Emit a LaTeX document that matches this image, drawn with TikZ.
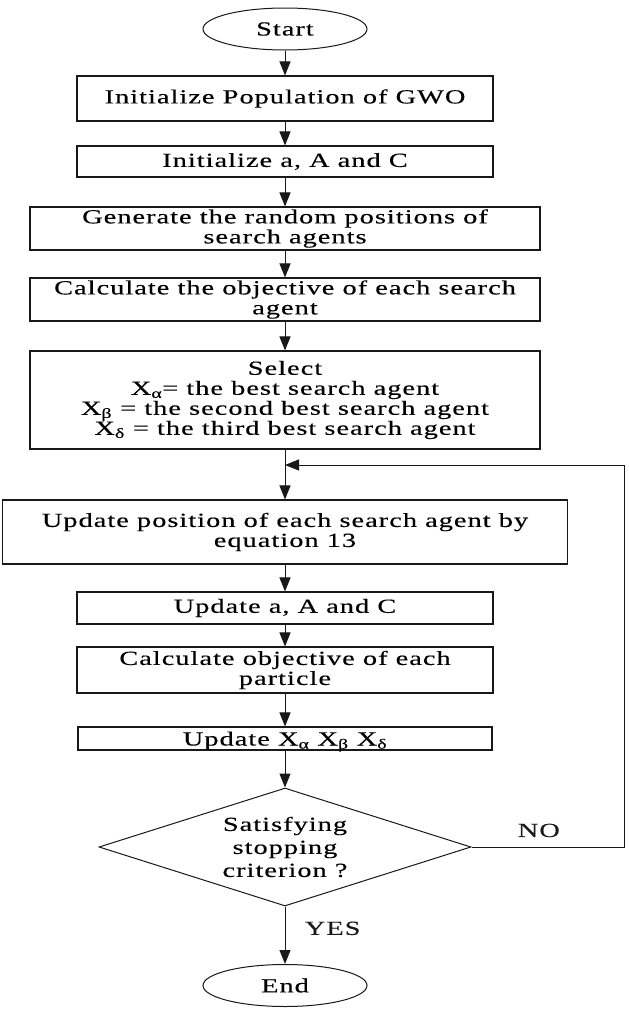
\documentclass[tikz,border=0pt]{standalone}
\usepackage{fontspec}
\setmainfont{Liberation Serif}[FakeStretch=1.42, LetterSpace=5, FakeBold=0.25]
\usepackage{tikz}
\usetikzlibrary{shapes.geometric, arrows.meta, positioning, calc}
\definecolor{mydark}{RGB}{25,25,25}
\tikzset{
  block/.style={rectangle, draw=mydark, fill=white, align=center,
    inner sep=0pt, line width=1.1pt, font=\fontsize{20}{20}\selectfont},
  terminal/.style={ellipse, draw=mydark, fill=white, inner sep=0pt,
    minimum width=164pt, minimum height=42pt, line width=1pt,
    font=\fontsize{20}{20}\selectfont},
  decision/.style={diamond, draw=mydark, fill=white, align=center, inner sep=0pt,
    shape aspect=3.15, minimum width=372pt, minimum height=118pt, line width=1pt,
    font=\fontsize{20}{23}\selectfont},
  arrow/.style={-{Triangle[length=14pt, width=11pt]}, line width=1pt, color=mydark},
  line/.style={draw, line width=1pt, color=mydark}
}
\begin{document}
\begin{tikzpicture}[x=1pt, y=-1pt]
  \useasboundingbox (0,0) rectangle (629,1015);

  % Start and initialisation
  \node[terminal] (start) at (285,29) {Start};
  \node[block, minimum width=416pt, minimum height=45pt] (initpop) at (285,98.5) {Initialize Population of GWO};
  \node[block, minimum width=416pt, minimum height=31pt] (initabc) at (285,161.5) {Initialize a, A and C};
  \node[block, minimum width=510pt, minimum height=43pt] (genpos) at (285,228.5) {Generate the random positions of\\search agents};
  \node[block, minimum width=510pt, minimum height=43pt] (calcobj) at (285,299.5) {Calculate the objective of each search\\agent};
  \node[block, minimum width=510pt, minimum height=98pt] (select) at (285,400) {Select\\
    X\textsubscript{α}= the best search agent\\
    X\textsubscript{β} = the second best search agent\\
    X\textsubscript{δ} = the third best search agent};

  % Main loop
  \node[block, minimum width=565pt, minimum height=64pt] (updpos) at (285,532) {Update position of each search agent by\\equation 13};
  \node[block, minimum width=416pt, minimum height=32pt] (updabc) at (285,608) {Update a, A and C};
  \node[block, minimum width=416pt, minimum height=46pt] (calcpart) at (285,670) {Calculate objective of each\\particle};
  \node[block, minimum width=414pt, minimum height=23pt, text height=16pt, text depth=2pt] (updx) at (285,738.5) {Update X\textsubscript{α} X\textsubscript{β} X\textsubscript{δ}};
  \node[decision] (stop) at (285,847) {Satisfying\\stopping\\criterion ?};
  \node[terminal] (end) at (285,985.5) {End};

  \coordinate (join) at (285,465);

  % Connections
  \draw[arrow] (start) -- (initpop);
  \draw[arrow] (initpop) -- (initabc);
  \draw[arrow] (initabc) -- (genpos);
  \draw[arrow] (genpos) -- (calcobj);
  \draw[arrow] (calcobj) -- (select);
  \draw[arrow] (select) -- (updpos);
  \draw[arrow] (updpos) -- (updabc);
  \draw[arrow] (updabc) -- (calcpart);
  \draw[arrow] (calcpart) -- (updx);
  \draw[arrow] (updx) -- (stop);
  \draw[arrow] (stop) -- node[right=16pt, pos=0.38, font=\fontsize{20}{20}\selectfont] {YES} (end);
  \draw[arrow] (stop.east) -- node[above=6pt, pos=0.44, font=\fontsize{20}{20}\selectfont] {NO} ++(153,0) |- (join);
\end{tikzpicture}
\end{document}
